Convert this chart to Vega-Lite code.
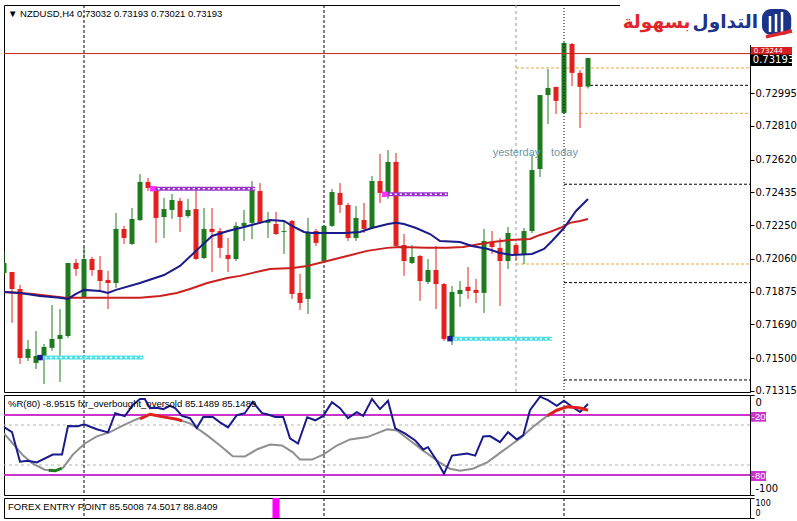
{
"$schema":"https://vega.github.io/schema/vega-lite/v6.json",
"background":"white",
"padding":{"left":3,"top":4,"right":0,"bottom":0},
"spacing":3,
"bounds":"flush",
"config":{"view":{"stroke":"#000","strokeWidth":1},"axis":{"grid":false,"labelFont":"DejaVu Sans","labelFontSize":10,"labelColor":"#000","tickColor":"#000","domainColor":"#000","tickSize":4,"labelPadding":1,"labelOverlap":false},"text":{"font":"Liberation Sans"}},
"resolve":{"scale":{"x":"independent","y":"independent"}},
"datasets":{
"candles":[
{"i":0,"o":0.71981,"h":0.72105,"l":0.71964,"c":0.72037},
{"i":1,"o":0.71986,"h":0.71986,"l":0.71699,"c":0.71890},
{"i":2,"o":0.71890,"h":0.71913,"l":0.71467,"c":0.71501},
{"i":3,"o":0.71501,"h":0.71603,"l":0.71484,"c":0.71552},
{"i":4,"o":0.71473,"h":0.71653,"l":0.71439,"c":0.71512},
{"i":5,"o":0.71512,"h":0.71580,"l":0.71354,"c":0.71563},
{"i":6,"o":0.71558,"h":0.71800,"l":0.71541,"c":0.71608},
{"i":7,"o":0.71608,"h":0.71777,"l":0.71366,"c":0.71631},
{"i":8,"o":0.71625,"h":0.72037,"l":0.71614,"c":0.72037},
{"i":9,"o":0.72037,"h":0.72059,"l":0.71964,"c":0.72003},
{"i":10,"o":0.71845,"h":0.72127,"l":0.71840,"c":0.72059},
{"i":11,"o":0.72059,"h":0.72071,"l":0.71964,"c":0.71997},
{"i":12,"o":0.71997,"h":0.72076,"l":0.71879,"c":0.71935},
{"i":13,"o":0.71941,"h":0.71992,"l":0.71777,"c":0.71924},
{"i":14,"o":0.71924,"h":0.72319,"l":0.71896,"c":0.72229},
{"i":15,"o":0.72229,"h":0.72246,"l":0.72144,"c":0.72178},
{"i":16,"o":0.72144,"h":0.72347,"l":0.72138,"c":0.72285},
{"i":17,"o":0.72279,"h":0.72539,"l":0.72274,"c":0.72494},
{"i":18,"o":0.72494,"h":0.72516,"l":0.72443,"c":0.72460},
{"i":19,"o":0.72460,"h":0.72471,"l":0.72150,"c":0.72291},
{"i":20,"o":0.72296,"h":0.72404,"l":0.72178,"c":0.72341},
{"i":21,"o":0.72336,"h":0.72426,"l":0.72285,"c":0.72392},
{"i":22,"o":0.72387,"h":0.72404,"l":0.72212,"c":0.72296},
{"i":23,"o":0.72302,"h":0.72398,"l":0.72291,"c":0.72336},
{"i":24,"o":0.72341,"h":0.72454,"l":0.72054,"c":0.72059},
{"i":25,"o":0.72065,"h":0.72347,"l":0.72059,"c":0.72229},
{"i":26,"o":0.72229,"h":0.72347,"l":0.71986,"c":0.72212},
{"i":27,"o":0.72217,"h":0.72234,"l":0.72065,"c":0.72122},
{"i":28,"o":0.72082,"h":0.72178,"l":0.71986,"c":0.72059},
{"i":29,"o":0.72059,"h":0.72268,"l":0.72048,"c":0.72246},
{"i":30,"o":0.72246,"h":0.72336,"l":0.72161,"c":0.72263},
{"i":31,"o":0.72263,"h":0.72499,"l":0.72172,"c":0.72460},
{"i":32,"o":0.72443,"h":0.72488,"l":0.72257,"c":0.72263},
{"i":33,"o":0.72263,"h":0.72325,"l":0.72178,"c":0.72274},
{"i":34,"o":0.72257,"h":0.72325,"l":0.72195,"c":0.72200},
{"i":35,"o":0.72212,"h":0.72274,"l":0.72088,"c":0.72217},
{"i":36,"o":0.72274,"h":0.72279,"l":0.71834,"c":0.71862},
{"i":37,"o":0.71868,"h":0.71975,"l":0.71772,"c":0.71811},
{"i":38,"o":0.71834,"h":0.72291,"l":0.71749,"c":0.72206},
{"i":39,"o":0.72217,"h":0.72229,"l":0.72133,"c":0.72150},
{"i":40,"o":0.72048,"h":0.72251,"l":0.72037,"c":0.72246},
{"i":41,"o":0.72246,"h":0.72454,"l":0.72240,"c":0.72437},
{"i":42,"o":0.72432,"h":0.72488,"l":0.72319,"c":0.72364},
{"i":43,"o":0.72364,"h":0.72375,"l":0.72161,"c":0.72178},
{"i":44,"o":0.72178,"h":0.72358,"l":0.72161,"c":0.72291},
{"i":45,"o":0.72279,"h":0.72375,"l":0.72206,"c":0.72229},
{"i":46,"o":0.72234,"h":0.72528,"l":0.72229,"c":0.72499},
{"i":47,"o":0.72499,"h":0.72652,"l":0.72375,"c":0.72432},
{"i":48,"o":0.72426,"h":0.72674,"l":0.72398,"c":0.72607},
{"i":49,"o":0.72607,"h":0.72657,"l":0.72127,"c":0.72133},
{"i":50,"o":0.72138,"h":0.72200,"l":0.71964,"c":0.72048},
{"i":51,"o":0.72037,"h":0.72138,"l":0.72031,"c":0.72071},
{"i":52,"o":0.72076,"h":0.72082,"l":0.71823,"c":0.71935},
{"i":53,"o":0.71930,"h":0.72059,"l":0.71918,"c":0.71997},
{"i":54,"o":0.71997,"h":0.72133,"l":0.71777,"c":0.71918},
{"i":55,"o":0.71918,"h":0.71924,"l":0.71597,"c":0.71608},
{"i":56,"o":0.71608,"h":0.71907,"l":0.71574,"c":0.71873},
{"i":57,"o":0.71862,"h":0.71935,"l":0.71789,"c":0.71885},
{"i":58,"o":0.71902,"h":0.72014,"l":0.71834,"c":0.71879},
{"i":59,"o":0.71885,"h":0.71947,"l":0.71811,"c":0.71868},
{"i":60,"o":0.71868,"h":0.72229,"l":0.71755,"c":0.72161},
{"i":61,"o":0.72155,"h":0.72217,"l":0.72088,"c":0.72127},
{"i":62,"o":0.72122,"h":0.72178,"l":0.71794,"c":0.72048},
{"i":63,"o":0.72048,"h":0.72240,"l":0.72003,"c":0.72206},
{"i":64,"o":0.72138,"h":0.72150,"l":0.72048,"c":0.72088},
{"i":65,"o":0.72082,"h":0.72234,"l":0.72031,"c":0.72217},
{"i":66,"o":0.72217,"h":0.72652,"l":0.72206,"c":0.72561},
{"i":67,"o":0.72567,"h":0.72984,"l":0.72522,"c":0.72984},
{"i":68,"o":0.72984,"h":0.73131,"l":0.72821,"c":0.73024},
{"i":69,"o":0.73030,"h":0.73030,"l":0.72877,"c":0.72951},
{"i":70,"o":0.72883,"h":0.73283,"l":0.72877,"c":0.73278},
{"i":71,"o":0.73272,"h":0.73278,"l":0.73035,"c":0.73109},
{"i":72,"o":0.73109,"h":0.73125,"l":0.72798,"c":0.73030},
{"i":73,"o":0.73032,"h":0.73193,"l":0.73021,"c":0.73193}
],
"ma":[
{"i":0,"p":0.71873,"ma":"fast"},{"i":2,"p":0.71868,"ma":"fast"},{"i":4.5,"p":0.71851,"ma":"fast"},{"i":7,"p":0.71840,"ma":"fast"},{"i":8,"p":0.71834,"ma":"fast"},{"i":9,"p":0.71862,"ma":"fast"},{"i":10,"p":0.71885,"ma":"fast"},{"i":12,"p":0.71879,"ma":"fast"},{"i":13,"p":0.71868,"ma":"fast"},{"i":14,"p":0.71885,"ma":"fast"},{"i":17,"p":0.71924,"ma":"fast"},{"i":20,"p":0.71969,"ma":"fast"},{"i":22,"p":0.72020,"ma":"fast"},{"i":24,"p":0.72105,"ma":"fast"},{"i":26,"p":0.72189,"ma":"fast"},{"i":28,"p":0.72217,"ma":"fast"},{"i":30,"p":0.72240,"ma":"fast"},{"i":32,"p":0.72263,"ma":"fast"},{"i":33.25,"p":0.72279,"ma":"fast"},{"i":35,"p":0.72274,"ma":"fast"},{"i":36,"p":0.72246,"ma":"fast"},{"i":37.5,"p":0.72212,"ma":"fast"},{"i":38.5,"p":0.72206,"ma":"fast"},{"i":40.5,"p":0.72206,"ma":"fast"},{"i":42.5,"p":0.72206,"ma":"fast"},{"i":44.5,"p":0.72212,"ma":"fast"},{"i":46,"p":0.72234,"ma":"fast"},{"i":48,"p":0.72257,"ma":"fast"},{"i":49,"p":0.72263,"ma":"fast"},{"i":50,"p":0.72257,"ma":"fast"},{"i":51.5,"p":0.72234,"ma":"fast"},{"i":53.25,"p":0.72200,"ma":"fast"},{"i":54.5,"p":0.72161,"ma":"fast"},{"i":57,"p":0.72155,"ma":"fast"},{"i":58.5,"p":0.72133,"ma":"fast"},{"i":60.5,"p":0.72116,"ma":"fast"},{"i":62,"p":0.72093,"ma":"fast"},{"i":63.5,"p":0.72082,"ma":"fast"},{"i":66,"p":0.72088,"ma":"fast"},{"i":67.5,"p":0.72116,"ma":"fast"},{"i":68.5,"p":0.72161,"ma":"fast"},{"i":70,"p":0.72234,"ma":"fast"},{"i":71.5,"p":0.72330,"ma":"fast"},{"i":73,"p":0.72398,"ma":"fast"},
{"i":0,"p":0.71873,"ma":"slow"},{"i":2,"p":0.71868,"ma":"slow"},{"i":3.6,"p":0.71862,"ma":"slow"},{"i":5.75,"p":0.71851,"ma":"slow"},{"i":7.6,"p":0.71840,"ma":"slow"},{"i":13.25,"p":0.71840,"ma":"slow"},{"i":17,"p":0.71840,"ma":"slow"},{"i":19.5,"p":0.71851,"ma":"slow"},{"i":21.6,"p":0.71868,"ma":"slow"},{"i":23.25,"p":0.71890,"ma":"slow"},{"i":25.4,"p":0.71924,"ma":"slow"},{"i":27.9,"p":0.71952,"ma":"slow"},{"i":29.5,"p":0.71964,"ma":"slow"},{"i":31.1,"p":0.71981,"ma":"slow"},{"i":33.25,"p":0.72003,"ma":"slow"},{"i":36.1,"p":0.72009,"ma":"slow"},{"i":37.9,"p":0.72020,"ma":"slow"},{"i":40.4,"p":0.72048,"ma":"slow"},{"i":42.9,"p":0.72076,"ma":"slow"},{"i":45.4,"p":0.72105,"ma":"slow"},{"i":47.9,"p":0.72122,"ma":"slow"},{"i":49.5,"p":0.72127,"ma":"slow"},{"i":52.9,"p":0.72122,"ma":"slow"},{"i":55.4,"p":0.72122,"ma":"slow"},{"i":57.4,"p":0.72127,"ma":"slow"},{"i":59.5,"p":0.72144,"ma":"slow"},{"i":61.1,"p":0.72155,"ma":"slow"},{"i":63.25,"p":0.72167,"ma":"slow"},{"i":65.75,"p":0.72172,"ma":"slow"},{"i":67,"p":0.72195,"ma":"slow"},{"i":68.25,"p":0.72212,"ma":"slow"},{"i":69.5,"p":0.72234,"ma":"slow"},{"i":70.75,"p":0.72263,"ma":"slow"},{"i":72,"p":0.72274,"ma":"slow"},{"i":73,"p":0.72285,"ma":"slow"}
],
"vlines":[{"i":10,"kind":"period"},{"i":40,"kind":"period"},{"i":64,"kind":"yesterday"},{"i":70,"kind":"today"}],
"hlines":[
{"i":64,"i2":93.25,"p":0.73137,"kind":"daily"},
{"i":73.25,"i2":93.25,"p":0.73039,"kind":"today"},
{"i":72,"i2":93.25,"p":0.72881,"kind":"daily"},
{"i":70,"i2":93.25,"p":0.72481,"kind":"today"},
{"i":64,"i2":93.25,"p":0.72031,"kind":"daily"},
{"i":70,"i2":93.25,"p":0.71926,"kind":"today"},
{"i":70,"i2":93.25,"p":0.71377,"kind":"today"}
],
"zones":[
{"i":18.6,"i2":31.4,"p":0.72456,"kind":"resistance"},
{"i":47.6,"i2":55.5,"p":0.72424,"kind":"resistance"},
{"i":4.5,"i2":17.4,"p":0.71503,"kind":"support"},
{"i":55.75,"i2":68.5,"p":0.71610,"kind":"support"}
],
"ref":[{"p":0.73218}],
"daylabels":[{"i":64.06,"p":0.72657,"t":"yesterday"},{"i":70.06,"p":0.72657,"t":"today"}],
"titles":[{"i":0.5,"p":0.73440,"t":"▼ NZDUSD,H4  0.73032 0.73193 0.73021 0.73193"}],
"cover":[{"i":77,"i2":98.9,"p":0.73492,"p2":0.73266}],
"logo":[{"i":94.25,"p":0.73362,"t":"التداول","part":"a"},{"i":85.8,"p":0.73362,"t":"بسهولة","part":"b"}],
"icon":[{"i":94.75,"i2":98.4,"p":0.73469,"p2":0.73323}],
"iconbars":[{"i":95.75,"p":0.73340,"p2":0.73430},{"i":96.5,"p":0.73340,"p2":0.73441},{"i":97.25,"p":0.73340,"p2":0.73453}],
"swoosh":[{"i":95.25,"i2":98.5,"p":0.73312,"p2":0.73345}],
"plabels":[
{"i":93.35,"i2":98.5,"p":0.73255,"p2":0.73210,"pc":0.73234,"t":"0.73244","kind":"high"},
{"i":93.35,"i2":98.5,"p":0.73213,"p2":0.73148,"pc":0.73181,"t":"0.73193","kind":"bid"}
],
"wr":[
{"i":0,"v":-32.0},{"i":1,"v":-37.1},{"i":2,"v":-66.7},{"i":3,"v":-65.7},{"i":4.1,"v":-67.4},{"i":6.1,"v":-59.6},{"i":7.25,"v":-59.6},{"i":8,"v":-31.0},{"i":9.25,"v":-31.3},{"i":10,"v":-29.3},{"i":11.6,"v":-34.3},{"i":13,"v":-37.4},{"i":13.9,"v":-18.2},{"i":15.1,"v":-21.2},{"i":16.1,"v":-10.1},{"i":17,"v":-4.0},{"i":17.6,"v":-4.0},{"i":18.25,"v":-13.1},{"i":19.1,"v":-12.8},{"i":19.9,"v":-14.1},{"i":20.75,"v":-10.8},{"i":21.4,"v":-13.1},{"i":22.25,"v":-20.9},{"i":23.25,"v":-23.2},{"i":24.1,"v":-33.0},{"i":24.9,"v":-21.9},{"i":26.1,"v":-21.9},{"i":27,"v":-27.3},{"i":28,"v":-32.3},{"i":29.1,"v":-20.2},{"i":30.1,"v":-18.2},{"i":31.1,"v":-6.8},{"i":32.25,"v":-18.2},{"i":32.9,"v":-19.2},{"i":33.9,"v":-21.9},{"i":34.9,"v":-21.9},{"i":35.75,"v":-43.4},{"i":36.75,"v":-48.5},{"i":37.9,"v":-22.2},{"i":38.9,"v":-25.3},{"i":39.9,"v":-20.9},{"i":41,"v":-7.1},{"i":42,"v":-13.1},{"i":43,"v":-23.2},{"i":44.1,"v":-17.2},{"i":44.9,"v":-20.9},{"i":46,"v":-4.0},{"i":47,"v":-14.1},{"i":48,"v":-5.8},{"i":48.9,"v":-33.3},{"i":50.1,"v":-38.4},{"i":51.4,"v":-45.5},{"i":52.4,"v":-54.5},{"i":53,"v":-52.2},{"i":54.1,"v":-65.7},{"i":55,"v":-78.8},{"i":56,"v":-60.6},{"i":57,"v":-59.6},{"i":57.9,"v":-58.6},{"i":58.9,"v":-60.6},{"i":59.9,"v":-41.4},{"i":60.75,"v":-41.1},{"i":62,"v":-47.2},{"i":63,"v":-37.1},{"i":64.1,"v":-44.4},{"i":64.9,"v":-40.4},{"i":65.75,"v":-15.2},{"i":67,"v":-1.7},{"i":68,"v":-5.1},{"i":69.1,"v":-10.8},{"i":70,"v":-5.8},{"i":71,"v":-11.8},{"i":72,"v":-16.9},{"i":73,"v":-9.0}
],
"sig":[
{"i":0,"v":-38.4},{"i":1.1,"v":-48.5},{"i":2.4,"v":-60.6},{"i":3.6,"v":-68.7},{"i":5.1,"v":-74.7},{"i":6.4,"v":-75.8},{"i":7.4,"v":-72.7},{"i":8.6,"v":-59.6},{"i":10.1,"v":-48.5},{"i":11.6,"v":-41.4},{"i":13.25,"v":-37.1},{"i":14.9,"v":-30.3},{"i":16.6,"v":-24.2},{"i":18.25,"v":-19.2},{"i":19.9,"v":-21.9},{"i":21.6,"v":-24.2},{"i":23.25,"v":-28.3},{"i":25.4,"v":-40.4},{"i":27,"v":-50.5},{"i":28.6,"v":-61.3},{"i":30.1,"v":-61.6},{"i":31.6,"v":-54.5},{"i":33.25,"v":-49.5},{"i":34.75,"v":-50.5},{"i":36.1,"v":-57.3},{"i":37,"v":-64.6},{"i":38.5,"v":-64.6},{"i":39.9,"v":-59.6},{"i":41.6,"v":-50.5},{"i":43.25,"v":-44.4},{"i":45.4,"v":-42.1},{"i":46.6,"v":-38.4},{"i":47.9,"v":-34.3},{"i":49.1,"v":-35.4},{"i":50.75,"v":-45.5},{"i":52.4,"v":-55.6},{"i":54.5,"v":-67.7},{"i":55.75,"v":-73.7},{"i":57,"v":-75.8},{"i":58.6,"v":-73.7},{"i":60.4,"v":-67.4},{"i":62.4,"v":-55.6},{"i":64.5,"v":-43.4},{"i":66.1,"v":-32.0},{"i":67.9,"v":-20.9},{"i":69.1,"v":-15.2},{"i":70.4,"v":-11.8},{"i":72,"v":-13.1},{"i":73,"v":-15.2}
],
"hl":[
{"i":17,"v":-23.9,"seg":"ob1"},{"i":18.25,"v":-19.2,"seg":"ob1"},{"i":19.9,"v":-21.9,"seg":"ob1"},{"i":21.6,"v":-24.2,"seg":"ob1"},{"i":22.25,"v":-25.8,"seg":"ob1"},
{"i":67.9,"v":-20.9,"seg":"ob2"},{"i":69.1,"v":-15.2,"seg":"ob2"},{"i":70.4,"v":-11.8,"seg":"ob2"},{"i":72,"v":-13.1,"seg":"ob2"},{"i":73,"v":-15.2,"seg":"ob2"},
{"i":5.6,"v":-75.2,"seg":"os1"},{"i":6.4,"v":-75.8,"seg":"os1"},{"i":7.2,"v":-73.4,"seg":"os1"}
],
"osclevels":[{"v":-20,"kind":"band"},{"v":-80,"kind":"band"},{"v":-30,"kind":"grid"},{"v":-70,"kind":"grid"}],
"osctitle":[{"i":0.5,"v":-9,"t":"%R(80) -8.9515  fxr_overbought_oversold 85.1489 85.1489"}],
"osclabels":[{"i":93.35,"i2":95.25,"v":-17,"v2":-26.7,"vc":-21.8,"t":"-20"},{"i":93.35,"i2":95.25,"v":-76,"v2":-86,"vc":-81,"t":"-80"}],
"fep":[{"i":34,"v":100}],
"feptitle":[{"i":0.5,"v":56,"t":"FOREX ENTRY POINT 85.5008 74.5017 88.8409"}]
},
"vconcat":[
{
"width":746,"height":387,
"layer":[
{"data":{"name":"vlines"},"transform":[{"filter":"datum.kind=='period'"}],"mark":{"type":"rule","color":"#000","strokeDash":[3,2],"strokeWidth":1},"encoding":{"x":{"field":"i","type":"quantitative","scale":{"domain":[0,93.25],"nice":false,"zero":false,"padding":0},"axis":null}}},
{"data":{"name":"vlines"},"transform":[{"filter":"datum.kind=='yesterday'"}],"mark":{"type":"rule","color":"#9a9a9a","strokeDash":[3,3],"strokeWidth":1},"encoding":{"x":{"field":"i","type":"quantitative","scale":{"domain":[0,93.25],"nice":false,"zero":false,"padding":0},"axis":null}}},
{"data":{"name":"hlines"},"mark":{"type":"rule","strokeDash":[3,2],"strokeWidth":1},"encoding":{"x":{"field":"i","type":"quantitative","scale":{"domain":[0,93.25],"nice":false,"zero":false,"padding":0},"axis":null},"x2":{"field":"i2"},"y":{"field":"p","type":"quantitative","scale":{"domain":[0.71309,0.73492],"nice":false,"zero":false},"axis":{"orient":"right","values":[0.72995,0.7281,0.7262,0.72435,0.7225,0.7206,0.71875,0.7169,0.715,0.71315],"format":".5f","title":null,"labelFlush":false}},"color":{"condition":{"test":"datum.kind=='daily'","value":"#e6a83c"},"value":"#000"}}},
{"data":{"name":"candles"},"mark":{"type":"rule","strokeWidth":1,"clip":true},"encoding":{"x":{"field":"i","type":"quantitative","scale":{"domain":[0,93.25],"nice":false,"zero":false,"padding":0},"axis":null},"y":{"field":"l","type":"quantitative","scale":{"domain":[0.71309,0.73492],"nice":false,"zero":false},"title":null},"y2":{"field":"h"},"color":{"condition":{"test":"datum.c >= datum.o","value":"#1d7a1d"},"value":"#e3201c"}}},
{"data":{"name":"candles"},"mark":{"type":"bar","width":5,"clip":true},"encoding":{"x":{"field":"i","type":"quantitative","scale":{"domain":[0,93.25],"nice":false,"zero":false,"padding":0},"axis":null},"y":{"field":"o","type":"quantitative","scale":{"domain":[0.71309,0.73492],"nice":false,"zero":false},"title":null},"y2":{"field":"c"},"color":{"condition":{"test":"datum.c >= datum.o","value":"#1d7a1d"},"value":"#e3201c"}}},
{"data":{"name":"vlines"},"transform":[{"filter":"datum.kind=='today'"}],"mark":{"type":"rule","color":"#000","strokeDash":[1,2],"strokeWidth":1},"encoding":{"x":{"field":"i","type":"quantitative","scale":{"domain":[0,93.25],"nice":false,"zero":false,"padding":0},"axis":null}}},
{"data":{"name":"ma"},"transform":[{"filter":"datum.ma=='slow'"}],"mark":{"type":"line","color":"#cc1f1f","strokeWidth":2,"clip":true},"encoding":{"x":{"field":"i","type":"quantitative","scale":{"domain":[0,93.25],"nice":false,"zero":false,"padding":0},"axis":null},"y":{"field":"p","type":"quantitative","scale":{"domain":[0.71309,0.73492],"nice":false,"zero":false},"title":null}}},
{"data":{"name":"ma"},"transform":[{"filter":"datum.ma=='fast'"}],"mark":{"type":"line","color":"#1a1a8c","strokeWidth":2,"clip":true},"encoding":{"x":{"field":"i","type":"quantitative","scale":{"domain":[0,93.25],"nice":false,"zero":false,"padding":0},"axis":null},"y":{"field":"p","type":"quantitative","scale":{"domain":[0.71309,0.73492],"nice":false,"zero":false},"title":null}}},
{"data":{"name":"zones"},"mark":{"type":"rule","strokeWidth":4},"encoding":{"x":{"field":"i","type":"quantitative","scale":{"domain":[0,93.25],"nice":false,"zero":false,"padding":0},"axis":null},"x2":{"field":"i2"},"y":{"field":"p","type":"quantitative","scale":{"domain":[0.71309,0.73492],"nice":false,"zero":false},"title":null},"color":{"condition":{"test":"datum.kind=='resistance'","value":"#9933cc"},"value":"#4fe0e6"}}},
{"data":{"name":"zones"},"mark":{"type":"rule","strokeWidth":1.5,"strokeDash":[2,3],"color":"#ffffff"},"encoding":{"x":{"field":"i","type":"quantitative","scale":{"domain":[0,93.25],"nice":false,"zero":false,"padding":0},"axis":null},"x2":{"field":"i2"},"y":{"field":"p","type":"quantitative","scale":{"domain":[0.71309,0.73492],"nice":false,"zero":false},"title":null}}},
{"data":{"name":"zones"},"mark":{"type":"square","size":30,"filled":true,"opacity":1},"encoding":{"x":{"field":"i","type":"quantitative","scale":{"domain":[0,93.25],"nice":false,"zero":false,"padding":0},"axis":null},"y":{"field":"p","type":"quantitative","scale":{"domain":[0.71309,0.73492],"nice":false,"zero":false},"title":null},"color":{"condition":{"test":"datum.kind=='resistance'","value":"#ff33ff"},"value":"#1a1a8c"}}},
{"data":{"name":"ref"},"mark":{"type":"rule","color":"#c8201e","strokeWidth":1,"clip":true},"encoding":{"y":{"field":"p","type":"quantitative","scale":{"domain":[0.71309,0.73492],"nice":false,"zero":false},"title":null}}},
{"data":{"name":"daylabels"},"mark":{"type":"text","align":"center","baseline":"middle","fontSize":11,"color":"#6d98a8"},"encoding":{"x":{"field":"i","type":"quantitative","scale":{"domain":[0,93.25],"nice":false,"zero":false,"padding":0},"axis":null},"y":{"field":"p","type":"quantitative","scale":{"domain":[0.71309,0.73492],"nice":false,"zero":false},"title":null},"text":{"field":"t"}}},
{"data":{"name":"titles"},"mark":{"type":"text","align":"left","baseline":"middle","fontSize":9.5,"color":"#000"},"encoding":{"x":{"field":"i","type":"quantitative","scale":{"domain":[0,93.25],"nice":false,"zero":false,"padding":0},"axis":null},"y":{"field":"p","type":"quantitative","scale":{"domain":[0.71309,0.73492],"nice":false,"zero":false},"title":null},"text":{"field":"t"}}},
{"data":{"name":"cover"},"mark":{"type":"rect","color":"#ffffff"},"encoding":{"x":{"field":"i","type":"quantitative","scale":{"domain":[0,93.25],"nice":false,"zero":false,"padding":0},"axis":null},"x2":{"field":"i2"},"y":{"field":"p","type":"quantitative","scale":{"domain":[0.71309,0.73492],"nice":false,"zero":false},"title":null},"y2":{"field":"p2"}}},
{"data":{"name":"logo"},"mark":{"type":"text","align":"right","baseline":"alphabetic","fontSize":18.5,"fontWeight":"bold","font":"DejaVu Sans"},"encoding":{"x":{"field":"i","type":"quantitative","scale":{"domain":[0,93.25],"nice":false,"zero":false,"padding":0},"axis":null},"y":{"field":"p","type":"quantitative","scale":{"domain":[0.71309,0.73492],"nice":false,"zero":false},"title":null},"text":{"field":"t"},"color":{"condition":{"test":"datum.part=='a'","value":"#1c3488"},"value":"#e0262b"}}},
{"data":{"name":"icon"},"mark":{"type":"rect","color":"#1c3488","cornerRadius":9},"encoding":{"x":{"field":"i","type":"quantitative","scale":{"domain":[0,93.25],"nice":false,"zero":false,"padding":0},"axis":null},"x2":{"field":"i2"},"y":{"field":"p","type":"quantitative","scale":{"domain":[0.71309,0.73492],"nice":false,"zero":false},"title":null},"y2":{"field":"p2"}}},
{"data":{"name":"iconbars"},"mark":{"type":"rule","color":"#ffffff","strokeWidth":2.5},"encoding":{"x":{"field":"i","type":"quantitative","scale":{"domain":[0,93.25],"nice":false,"zero":false,"padding":0},"axis":null},"y":{"field":"p","type":"quantitative","scale":{"domain":[0.71309,0.73492],"nice":false,"zero":false},"title":null},"y2":{"field":"p2"}}},
{"data":{"name":"swoosh"},"mark":{"type":"rule","color":"#e0262b","strokeWidth":3.5},"encoding":{"x":{"field":"i","type":"quantitative","scale":{"domain":[0,93.25],"nice":false,"zero":false,"padding":0},"axis":null},"x2":{"field":"i2"},"y":{"field":"p","type":"quantitative","scale":{"domain":[0.71309,0.73492],"nice":false,"zero":false},"title":null},"y2":{"field":"p2"}}},
{"data":{"name":"plabels"},"transform":[{"filter":"datum.kind=='high'"}],"mark":{"type":"rect","color":"#d42020"},"encoding":{"x":{"field":"i","type":"quantitative","scale":{"domain":[0,93.25],"nice":false,"zero":false,"padding":0},"axis":null},"x2":{"field":"i2"},"y":{"field":"p","type":"quantitative","scale":{"domain":[0.71309,0.73492],"nice":false,"zero":false},"title":null},"y2":{"field":"p2"}}},
{"data":{"name":"plabels"},"transform":[{"filter":"datum.kind=='high'"}],"mark":{"type":"text","align":"left","baseline":"middle","font":"DejaVu Sans","fontSize":7,"color":"#ffffff","dx":3},"encoding":{"x":{"field":"i","type":"quantitative","scale":{"domain":[0,93.25],"nice":false,"zero":false,"padding":0},"axis":null},"y":{"field":"pc","type":"quantitative","scale":{"domain":[0.71309,0.73492],"nice":false,"zero":false},"title":null},"text":{"field":"t"}}},
{"data":{"name":"plabels"},"transform":[{"filter":"datum.kind=='bid'"}],"mark":{"type":"rect","color":"#000000"},"encoding":{"x":{"field":"i","type":"quantitative","scale":{"domain":[0,93.25],"nice":false,"zero":false,"padding":0},"axis":null},"x2":{"field":"i2"},"y":{"field":"p","type":"quantitative","scale":{"domain":[0.71309,0.73492],"nice":false,"zero":false},"title":null},"y2":{"field":"p2"}}},
{"data":{"name":"plabels"},"transform":[{"filter":"datum.kind=='bid'"}],"mark":{"type":"text","align":"left","baseline":"middle","font":"DejaVu Sans","fontSize":10,"color":"#ffffff","dx":2},"encoding":{"x":{"field":"i","type":"quantitative","scale":{"domain":[0,93.25],"nice":false,"zero":false,"padding":0},"axis":null},"y":{"field":"pc","type":"quantitative","scale":{"domain":[0.71309,0.73492],"nice":false,"zero":false},"title":null},"text":{"field":"t"}}}
]
},
{
"width":746,"height":100,
"layer":[
{"data":{"name":"osclevels"},"transform":[{"filter":"datum.kind=='grid'"}],"mark":{"type":"rule","color":"#b4b4b4","strokeDash":[3,3],"strokeWidth":1},"encoding":{"y":{"field":"v","type":"quantitative","scale":{"domain":[-100,0],"nice":false,"zero":false},"axis":{"orient":"right","values":[0,-30,-70,-100],"labelExpr":"datum.value == -30 ? '70' : datum.value == -70 ? '30' : datum.value == -100 ? '-100' : '0'","labelFlush":true,"labelFlushOffset":-2,"title":null}}}},
{"data":{"name":"vlines"},"transform":[{"filter":"datum.kind!='yesterday'"}],"mark":{"type":"rule","color":"#000","strokeDash":[3,2],"strokeWidth":1},"encoding":{"x":{"field":"i","type":"quantitative","scale":{"domain":[0,93.25],"nice":false,"zero":false,"padding":0},"axis":null}}},
{"data":{"name":"osclevels"},"transform":[{"filter":"datum.kind=='band'"}],"mark":{"type":"rule","color":"#cc33cc","strokeWidth":2,"clip":true},"encoding":{"y":{"field":"v","type":"quantitative","scale":{"domain":[-100,0],"nice":false,"zero":false},"title":null}}},
{"data":{"name":"sig"},"mark":{"type":"line","color":"#8f8f8f","strokeWidth":2,"clip":true},"encoding":{"x":{"field":"i","type":"quantitative","scale":{"domain":[0,93.25],"nice":false,"zero":false,"padding":0},"axis":null},"y":{"field":"v","type":"quantitative","scale":{"domain":[-100,0],"nice":false,"zero":false},"title":null}}},
{"data":{"name":"wr"},"mark":{"type":"line","color":"#1a1a8c","strokeWidth":2,"clip":true},"encoding":{"x":{"field":"i","type":"quantitative","scale":{"domain":[0,93.25],"nice":false,"zero":false,"padding":0},"axis":null},"y":{"field":"v","type":"quantitative","scale":{"domain":[-100,0],"nice":false,"zero":false},"title":null}}},
{"data":{"name":"hl"},"transform":[{"filter":"datum.seg!='os1'"}],"mark":{"type":"line","color":"#e0201c","strokeWidth":3,"clip":true},"encoding":{"x":{"field":"i","type":"quantitative","scale":{"domain":[0,93.25],"nice":false,"zero":false,"padding":0},"axis":null},"y":{"field":"v","type":"quantitative","scale":{"domain":[-100,0],"nice":false,"zero":false},"title":null},"detail":{"field":"seg"}}},
{"data":{"name":"hl"},"transform":[{"filter":"datum.seg=='os1'"}],"mark":{"type":"line","color":"#1d7a1d","strokeWidth":3,"clip":true},"encoding":{"x":{"field":"i","type":"quantitative","scale":{"domain":[0,93.25],"nice":false,"zero":false,"padding":0},"axis":null},"y":{"field":"v","type":"quantitative","scale":{"domain":[-100,0],"nice":false,"zero":false},"title":null}}},
{"data":{"name":"osctitle"},"mark":{"type":"text","align":"left","baseline":"middle","fontSize":9.5,"color":"#000"},"encoding":{"x":{"field":"i","type":"quantitative","scale":{"domain":[0,93.25],"nice":false,"zero":false,"padding":0},"axis":null},"y":{"field":"v","type":"quantitative","scale":{"domain":[-100,0],"nice":false,"zero":false},"title":null},"text":{"field":"t"}}},
{"data":{"name":"osclabels"},"mark":{"type":"rect","color":"#cc33cc"},"encoding":{"x":{"field":"i","type":"quantitative","scale":{"domain":[0,93.25],"nice":false,"zero":false,"padding":0},"axis":null},"x2":{"field":"i2"},"y":{"field":"v","type":"quantitative","scale":{"domain":[-100,0],"nice":false,"zero":false},"title":null},"y2":{"field":"v2"}}},
{"data":{"name":"osclabels"},"mark":{"type":"text","align":"left","baseline":"middle","fontSize":9.5,"color":"#ffffff","dx":1},"encoding":{"x":{"field":"i","type":"quantitative","scale":{"domain":[0,93.25],"nice":false,"zero":false,"padding":0},"axis":null},"y":{"field":"vc","type":"quantitative","scale":{"domain":[-100,0],"nice":false,"zero":false},"title":null},"text":{"field":"t"}}}
]
},
{
"width":746,"height":20,
"layer":[
{"data":{"name":"fep"},"mark":{"type":"bar","width":7,"color":"#ff00ff"},"encoding":{"x":{"field":"i","type":"quantitative","scale":{"domain":[0,93.25],"nice":false,"zero":false,"padding":0},"axis":null},"y":{"field":"v","type":"quantitative","scale":{"domain":[0,100],"nice":false,"zero":false},"axis":{"orient":"right","values":[0,100],"labelFlush":true,"labelFlushOffset":-1,"labelFontSize":8,"title":null}},"y2":{"datum":0}}},
{"data":{"name":"vlines"},"transform":[{"filter":"datum.kind!='yesterday'"}],"mark":{"type":"rule","color":"#000","strokeDash":[3,2],"strokeWidth":1},"encoding":{"x":{"field":"i","type":"quantitative","scale":{"domain":[0,93.25],"nice":false,"zero":false,"padding":0},"axis":null}}},
{"data":{"name":"feptitle"},"mark":{"type":"text","align":"left","baseline":"middle","fontSize":9.5,"color":"#000"},"encoding":{"x":{"field":"i","type":"quantitative","scale":{"domain":[0,93.25],"nice":false,"zero":false,"padding":0},"axis":null},"y":{"field":"v","type":"quantitative","scale":{"domain":[0,100],"nice":false,"zero":false},"title":null},"text":{"field":"t"}}}
]
}
]
}
